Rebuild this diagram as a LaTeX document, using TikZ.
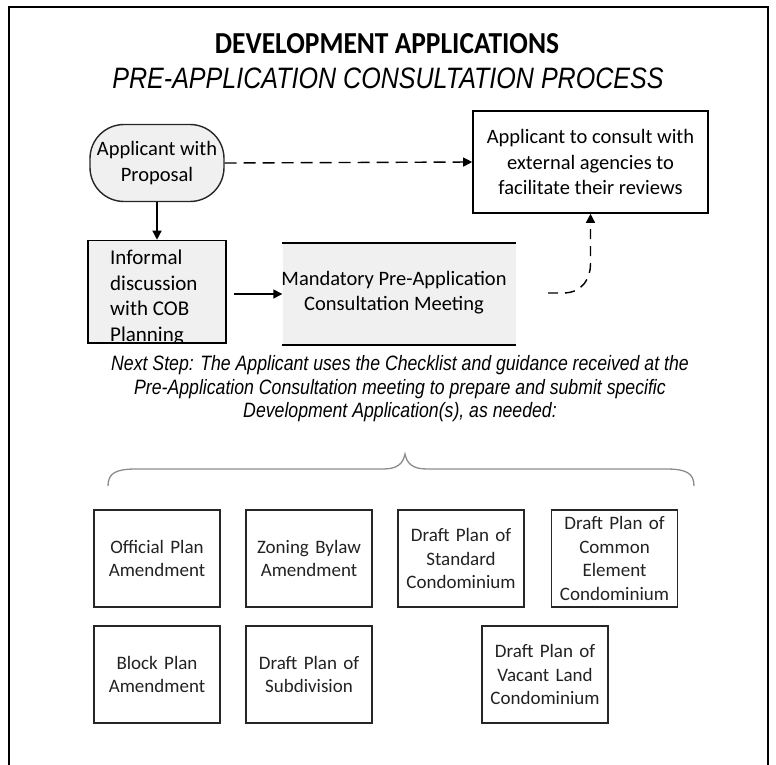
\documentclass[tikz,border=0pt]{standalone}
\usepackage{fontspec}
\setmainfont{Carlito}
\newfontfamily\titlefont[FakeStretch=0.9]{Carlito}
\newfontfamily\narrowit[FakeStretch=0.85,ItalicFont={Liberation Sans Italic}]{Liberation Sans}
\usetikzlibrary{arrows.meta}
\definecolor{boxfill}{HTML}{F0F0F0}
\definecolor{txt}{HTML}{222222}
\tikzset{
  arr/.style={-{Triangle[length=9pt,width=9pt]}, line width=1.4pt, black},
  darr/.style={arr, dash pattern=on 12pt off 7pt},
  darrc/.style={arr, dash pattern=on 10pt off 7pt},
  appbox/.style={draw=black!85, line width=1.4pt, minimum width=126pt, minimum height=97pt,
    text width=122pt, align=center, inner sep=1pt, text=txt,
    font=\fontsize{19}{23.5}\selectfont},
  flowtext/.style={font=\fontsize{20.5}{25.5}\selectfont, text=black, align=center}
}
\begin{document}
\begin{tikzpicture}[x=1pt,y=-1pt]
\useasboundingbox (0,0) rectangle (776,765);
% frame
\draw[line width=2pt] (9,766) -- (9,7) -- (768,7) -- (768,766);
% titles
\node[font=\titlefont\bfseries\fontsize{30.5}{34}\selectfont] (title) at (387,44) {DEVELOPMENT APPLICATIONS};
\node[font=\narrowit\itshape\fontsize{29.5}{32}\selectfont] (subtitle) at (388,78) {PRE-APPLICATION CONSULTATION PROCESS};
% top flow
\node[draw=black!85, line width=1.4pt, fill=boxfill, rounded corners=34pt, minimum width=134pt,
  minimum height=77pt, inner sep=0pt, flowtext] (app) at (157,163) {Applicant with\\Proposal};
\node[draw=black, line width=1.6pt, fill=white, minimum width=235pt, minimum height=102pt,
  inner sep=0pt, flowtext] (ext) at (590.5,162) {Applicant to consult with\\external agencies to\\facilitate their reviews};
\node[draw=black, line width=1.6pt, fill=boxfill, minimum width=138pt, minimum height=102pt,
  inner sep=0pt] (inf) at (157,291.5) {};
\begin{scope}
\clip (88,241) rectangle (226,342);
\node[anchor=north west, align=left, inner sep=0pt, font=\fontsize{21}{25.5}\selectfont] (inftxt) at (110,250)
  {Informal\\discussion\\with COB\\Planning};
\end{scope}
\draw[line width=1.6pt] (inf.south west) -- (inf.south east);
\node[fill=boxfill, minimum width=233pt, minimum height=102pt, inner sep=0pt] (mand) at (399,294) {};
\node[flowtext, inner sep=0pt] (mandtxt) at (394,292.5) {Mandatory Pre-Application\\Consultation Meeting};
\draw[line width=1.6pt] (mand.north west) -- (mand.north east);
\draw[line width=1.6pt] (mand.south west) -- (mand.south east);
\coordinate (cstart) at (548,293);
% connectors
\draw[arr] (app.south) -- (inf.north);
\draw[arr, shorten <=7pt] (inf.east |- mand.west) -- (mand.west);
\draw[darr] (app.east) -- (ext.west);
\draw[darrc] (cstart) -- ++(15,0) .. controls +(20,0) and +(0,14) .. ([yshift=-50pt]ext.south) -- (ext.south);
% next step text
\node[font=\narrowit\itshape\fontsize{20.8}{23.5}\selectfont, align=center] (next) at (400,389)
  {Next Step: The Applicant uses the Checklist and guidance received at the\\
   Pre-Application Consultation meeting to prepare and submit specific\\
   Development Application(s), as needed:};
% brace
\draw[black!45, line width=1.3pt] (108,486) .. controls (108,473) and (116,469) .. (136,469)
  -- (383,469) .. controls (397,469) and (403,464) .. (405,454)
  .. controls (407,464) and (413,469) .. (427,469)
  -- (666,469) .. controls (686,469) and (694,473) .. (694,486);
% application boxes
\node[appbox] (opa) at (157,558.5) {Official Plan\\Amendment};
\node[appbox] (zba) at (309,558.5) {Zoning Bylaw\\Amendment};
\node[appbox] (std) at (461,558.5) {Draft Plan of\\Standard\\Condominium};
\node[appbox] (cec) at (614.5,558.5) {Draft Plan of\\Common\\Element\\Condominium};
\node[appbox] (bpa) at (157,674.5) {Block Plan\\Amendment};
\node[appbox] (sub) at (309,674.5) {Draft Plan of\\Subdivision};
\node[appbox] (vlc) at (545,674.5) {Draft Plan of\\Vacant Land\\Condominium};
\end{tikzpicture}
\end{document}
